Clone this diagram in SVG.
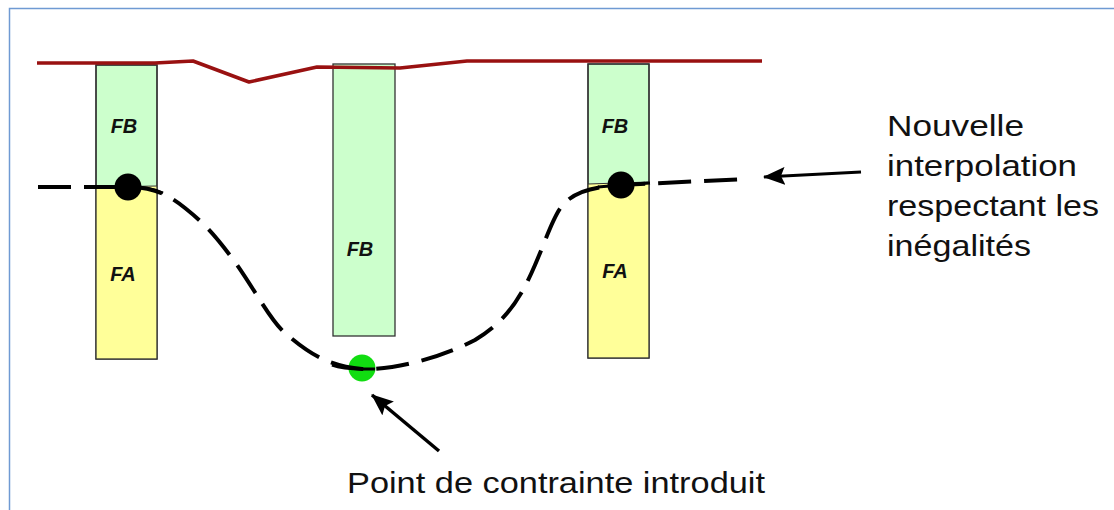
<svg xmlns="http://www.w3.org/2000/svg" width="1114" height="510" viewBox="0 0 1114 510">
<style>
.col{stroke:#333;stroke-width:1.3}
.fb{fill:#ccffcc}
.fa{fill:#ffff99}
.lbl{font-family:"Liberation Sans",Arial,sans-serif;font-weight:bold;font-style:italic;font-size:20px;fill:#111;text-anchor:middle}
.txt{font-family:"Liberation Sans",Arial,sans-serif;font-size:29px;fill:#111}
.dot{fill:#000}
</style>
<defs>
<marker id="ah" viewBox="0 0 22 18" refX="21" refY="9" markerWidth="22" markerHeight="18" markerUnits="userSpaceOnUse" orient="auto">
<path d="M0,0 L22,9 L0,18 L4,9 Z" fill="#000"/>
</marker>
</defs>
<rect width="1114" height="510" fill="#fff"/>
<path d="M9.5,510 L9.5,8.5 L1114,8.5" fill="none" stroke="#6f9ad3" stroke-width="1.5"/>

<g id="col-left">
<rect class="col fb" x="96" y="65" width="61" height="294"/>
<polygon class="fa" points="96,187 157,186 157,359 96,359"/>
<rect x="96" y="65" width="61" height="294" fill="none" class="col"/>
<line x1="96" y1="187" x2="157" y2="186" stroke="#333" stroke-width="1"/>
<text class="lbl" x="124" y="133">FB</text>
<text class="lbl" x="123" y="281">FA</text>
</g>
<g id="col-middle">
<rect class="col fb" x="333" y="64" width="62" height="272"/>
<text class="lbl" x="360" y="256">FB</text>
</g>
<g id="col-right">
<rect class="col fb" x="588" y="64" width="61" height="294"/>
<polygon class="fa" points="588,184 649,182 649,358 588,358"/>
<rect x="588" y="64" width="61" height="294" fill="none" class="col"/>
<line x1="588" y1="184" x2="649" y2="182" stroke="#333" stroke-width="1"/>
<text class="lbl" x="615" y="133">FB</text>
<text class="lbl" x="615" y="278">FA</text>
</g>

<g id="surface">
<path d="M37,63 L155,63 L193,61 L249,82 L317,67 L400,68 L467,61 L762,61" fill="none" stroke="#991111" stroke-width="3.5" stroke-linejoin="round"/>
</g>

<g id="points">
<circle class="dot" cx="128" cy="187" r="13.5"/>
<circle class="dot" cx="621" cy="185" r="13.5"/>
<circle cx="362" cy="368" r="13.5" fill="#11dd11"/>
</g>

<g id="connectors">
<path d="M38,187 L128,187 C150,187 165,192 185,208 C205,224 215,235 235,262 C255,290 270,320 285,333 C305,350 325,366 362,369 C395,370 440,358 475,340 C505,322 520,300 535,265 C550,230 555,210 568,200 C580,190 595,187 621,185 L745,179" fill="none" stroke="#000" stroke-width="4" stroke-dasharray="33 13"/>
<path d="M85,187 L128,187 C140,187 152,188 163,193" fill="none" stroke="#000" stroke-width="3"/>
<path d="M332,365 C340,368 350,369 362,369 L375,369" fill="none" stroke="#000" stroke-width="3"/>
<path d="M598,187 L621,185 L650,183" fill="none" stroke="#000" stroke-width="3"/>
<line x1="861" y1="172" x2="764" y2="177" stroke="#000" stroke-width="3" marker-end="url(#ah)"/>
<line x1="439" y1="451" x2="372" y2="395" stroke="#000" stroke-width="3.5" marker-end="url(#ah)"/>
</g>

<g id="labels">
<text class="txt" x="887" y="136" textLength="137" lengthAdjust="spacingAndGlyphs">Nouvelle</text>
<text class="txt" x="887" y="176" textLength="190" lengthAdjust="spacingAndGlyphs">interpolation</text>
<text class="txt" x="887" y="216" textLength="212" lengthAdjust="spacingAndGlyphs">respectant les</text>
<text class="txt" x="887" y="256" textLength="144" lengthAdjust="spacingAndGlyphs">inégalités</text>
<text class="txt" x="347" y="493" textLength="418" lengthAdjust="spacingAndGlyphs">Point de contrainte introduit</text>
</g>
</svg>
